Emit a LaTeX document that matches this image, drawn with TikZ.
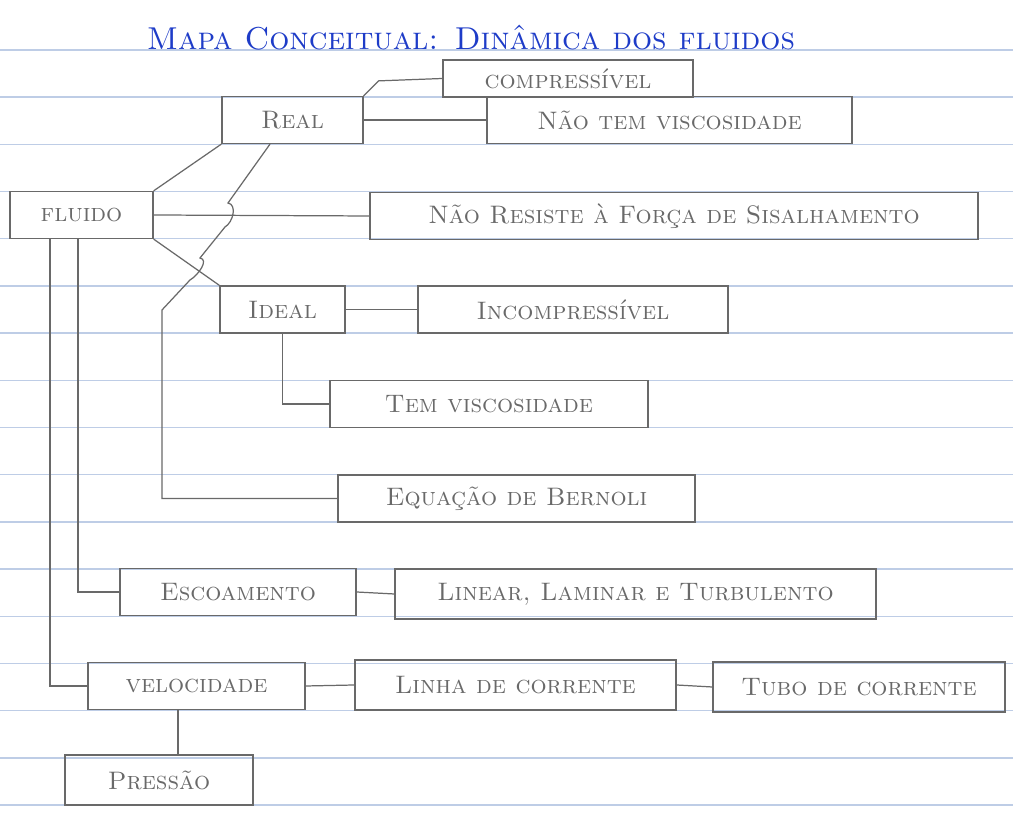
\documentclass[tikz,border=0pt]{standalone}
\usepackage{fontspec}
\definecolor{pencil}{RGB}{105,105,105}
\definecolor{penblue}{RGB}{30,60,200}
\definecolor{rule}{RGB}{190,205,230}
\begin{document}
\begin{tikzpicture}[
    conceito/.style={draw=pencil, line width=0.7pt, text=pencil, font=\Large\scshape,
        minimum height=0.94cm, inner sep=2pt},
    liga/.style={draw=pencil, line width=0.7pt}]
    \useasboundingbox[fill=white] (0,0) rectangle (20.26,16.26);
    \foreach \k in {0,...,16}
        \draw[rule, line width=0.8pt] (0,15.26-0.944*\k) -- (20.26,15.26-0.944*\k);

    \node[text=penblue, font=\fontsize{18}{20}\selectfont\scshape] (titulo) at (9.42,15.5) {Mapa Conceitual: Dinâmica dos fluidos};

    \node[conceito, minimum width=5cm, minimum height=0.74cm] (comp) at (11.36,14.69) {compressível};
    \node[conceito, minimum width=2.82cm] (real) at (5.85,13.86) {Real};
    \node[conceito, minimum width=7.3cm] (naotem) at (13.39,13.86) {Não tem viscosidade};
    \node[conceito, minimum width=2.86cm] (fluido) at (1.63,11.96) {fluido};
    \node[conceito, minimum width=12.16cm] (naores) at (13.48,11.94) {Não Resiste à Força de Sisalhamento};
    \node[conceito, minimum width=2.5cm] (ideal) at (5.65,10.07) {Ideal};
    \node[conceito, minimum width=6.2cm] (incomp) at (11.46,10.07) {Incompressível};
    \node[conceito, minimum width=6.36cm] (temvisc) at (9.78,8.18) {Tem viscosidade};
    \node[conceito, minimum width=7.14cm] (bernoli) at (10.33,6.29) {Equação de Bernoli};
    \node[conceito, minimum width=4.72cm] (escoam) at (4.76,4.42) {Escoamento};
    \node[conceito, minimum width=9.62cm, minimum height=1cm] (linear) at (12.71,4.38) {Linear, Laminar e Turbulento};
    \node[conceito, minimum width=4.34cm] (veloc) at (3.93,2.54) {velocidade};
    \node[conceito, minimum width=6.42cm, minimum height=1cm] (linha) at (10.31,2.56) {Linha de corrente};
    \node[conceito, minimum width=5.84cm, minimum height=1cm] (tubo) at (17.18,2.52) {Tubo de corrente};
    \node[conceito, minimum width=3.76cm, minimum height=1cm] (pressao) at (3.18,0.66) {Pressão};

    \draw[liga] (real.north east) -- ++(0.3,0.3) -- (comp.west);
    \draw[liga] (real.east) -- (naotem.west);
    \draw[liga] (fluido.north east) -- (real.south west);
    \draw[liga] (fluido.east) -- (naores.west);
    \draw[liga] (fluido.south east) -- (ideal.north west);
    \draw[liga] (ideal.east) -- (incomp.west);
    \draw[liga] (ideal.south) |- (temvisc.west);
    \draw[liga] ([xshift=-0.45cm]real.south) -- (4.56,12.2) to[out=-10,in=30] (4.5,11.72)
        -- (4.0,11.1) to[out=-10,in=30] (3.8,10.66) -- (3.24,10.06) |- (bernoli.west);
    \draw[liga] ([xshift=-0.07cm]fluido.south) |- (escoam.west);
    \draw[liga] ([xshift=-0.63cm]fluido.south) |- (veloc.west);
    \draw[liga] (escoam.east) -- (linear.west);
    \draw[liga] (veloc.east) -- (linha.west);
    \draw[liga] (linha.east) -- (tubo.west);
    \draw[liga] ([xshift=-0.37cm]veloc.south) -- ([xshift=0.38cm]pressao.north);
\end{tikzpicture}
\end{document}
